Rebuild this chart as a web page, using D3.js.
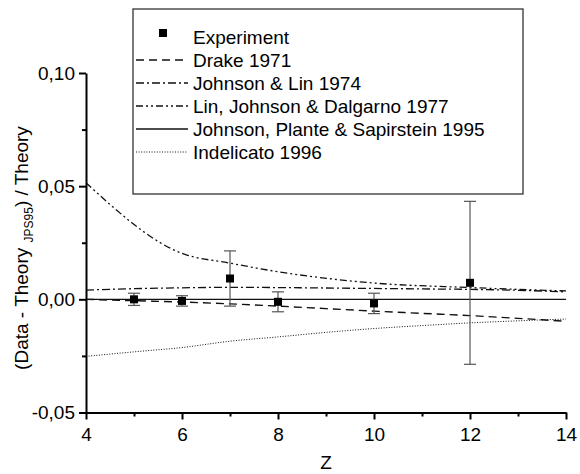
<!DOCTYPE html>
<html><head><meta charset="utf-8">
<script src="https://cdn.jsdelivr.net/npm/d3@7"></script>
<style>body{margin:0;background:#fff}svg{display:block}text{font-family:"Liberation Sans",Arial,sans-serif}</style>
</head><body><svg id="c" width="580" height="474"></svg>
<script>
// Data
const expZ = [5, 6, 7, 8, 10, 12];
const expVal = [0.0000, -0.0007, 0.0092, -0.0011, -0.0018, 0.0073];
const expErr = [0.0027, 0.0023, 0.0122, 0.0044, 0.0045, 0.0360];

const drakeZ = [4, 5, 6, 7, 8, 9, 10, 11, 12, 13, 14];
const drakeVal = [0.0000, -0.0006, -0.0012, -0.0020, -0.0030, -0.0041, -0.0052, -0.0062, -0.0072, -0.0084, -0.0097];

const jlZ = [4, 5, 6, 7, 8, 9, 10, 11, 12, 13, 14];
const jlVal = [0.0041, 0.0047, 0.0051, 0.0053, 0.0052, 0.0050, 0.0048, 0.0046, 0.0044, 0.0040, 0.0033];

const ljdZ = [4, 6, 7, 8, 10, 12, 14];
const ljdVal = [0.0515, 0.0203, 0.0160, 0.0122, 0.0072, 0.0052, 0.0037];

const jpsZ = [4, 14];
const jpsVal = [0, 0];

const indZ = [4, 5, 6, 7, 8, 9, 10, 11, 12, 13, 14];
const indVal = [-0.0252, -0.0232, -0.0213, -0.0185, -0.0166, -0.0146, -0.0129, -0.0116, -0.0104, -0.0095, -0.0087];

const xTicks = [4, 6, 8, 10, 12, 14];
const xMinor = [5, 7, 9, 11, 13];
const yTicks = [-0.05, 0.00, 0.05, 0.10];
const yMinor = [-0.025, 0.025, 0.075];

const legendLabels = ["Experiment", "Drake 1971", "Johnson & Lin 1974", "Lin, Johnson & Dalgarno 1977", "Johnson, Plante & Sapirstein 1995", "Indelicato 1996"];

const svg = d3.select("#c");
const x = d3.scaleLinear().domain([4, 14]).range([86, 566]);
const y = d3.scaleLinear().domain([-0.05, 0.10]).range([412.5, 73]);
const fmt = v => d3.format(".2f")(v).replace(".", ",").replace("\u2212", "-");

const styles = [
  {z: drakeZ, v: drakeVal, dash: "8,5", w: 1.4},
  {z: jlZ, v: jlVal, dash: "8,3,2,3", w: 1.3},
  {z: ljdZ, v: ljdVal, dash: "7,3,2,3,2,3", w: 1.3},
  {z: jpsZ, v: jpsVal, dash: null, w: 1.4},
  {z: indZ, v: indVal, dash: "1,1.6", w: 1}
];
const line = d3.line().x(d => x(d[0])).y(d => y(d[1])).curve(d3.curveMonotoneX);
styles.forEach(s => {
  svg.append("path").datum(s.z.map((z, i) => [z, s.v[i]]))
    .attr("d", line).attr("fill", "none").attr("stroke", "#111")
    .attr("stroke-width", s.w).attr("stroke-dasharray", s.dash);
});

// Error bars
const eb = svg.append("g").attr("stroke", "#555").attr("stroke-width", 1.2);
expZ.forEach((z, i) => {
  const cx = x(z), y1 = y(expVal[i] + expErr[i]), y2 = y(expVal[i] - expErr[i]);
  eb.append("line").attr("x1", cx).attr("x2", cx).attr("y1", y1).attr("y2", y2);
  eb.append("line").attr("x1", cx - 6).attr("x2", cx + 6).attr("y1", y1).attr("y2", y1);
  eb.append("line").attr("x1", cx - 6).attr("x2", cx + 6).attr("y1", y2).attr("y2", y2);
});
svg.append("g").selectAll("rect").data(expZ).join("rect")
  .attr("x", (d) => x(d) - 4).attr("y", (d, i) => y(expVal[i]) - 4)
  .attr("width", 8).attr("height", 8).attr("fill", "#000");

// Axes
const xAxis = svg.append("g").attr("transform", "translate(0,412.5)")
  .call(d3.axisBottom(x).tickValues(xTicks).tickSize(7).tickSizeOuter(0).tickPadding(5).tickFormat(d3.format("d")));
svg.append("g").attr("transform", "translate(0,412.5)")
  .call(d3.axisBottom(x).tickValues(xMinor).tickSize(4).tickFormat(""))
  .call(g => g.select(".domain").remove());
const yAxis = svg.append("g").attr("transform", "translate(86,0)")
  .call(d3.axisLeft(y).tickValues(yTicks).tickSize(7).tickSizeOuter(0).tickPadding(4).tickFormat(fmt));
svg.append("g").attr("transform", "translate(86,0)")
  .call(d3.axisLeft(y).tickValues(yMinor).tickSize(4).tickFormat(""))
  .call(g => g.select(".domain").remove());
svg.selectAll(".domain").attr("stroke", "#000").attr("stroke-width", 2);
svg.selectAll(".tick line").attr("stroke", "#000").attr("stroke-width", 2);
svg.selectAll(".tick text").attr("font-size", 19).attr("fill", "#000")
  .style("font-family", '"Liberation Sans", Arial, sans-serif');
xAxis.selectAll(".tick text").attr("dy", "0.85em");

// Axis titles
svg.append("text").attr("x", 326).attr("y", 469).attr("text-anchor", "middle")
  .attr("font-size", 19).text("Z");
const yt = svg.append("text").attr("transform", "translate(28,248) rotate(-90)")
  .attr("text-anchor", "middle").attr("font-size", 19);
yt.append("tspan").text("(Data - Theory ");
yt.append("tspan").attr("font-size", 12).attr("dy", 5).text("JPS95");
yt.append("tspan").attr("dy", -5).text(") / Theory");

// Legend
const lg = svg.append("g");
lg.append("rect").attr("x", 133).attr("y", 9).attr("width", 390).attr("height", 185)
  .attr("fill", "#fff").attr("stroke", "#333").attr("stroke-width", 1.3);
const rowY = i => 37 + i * 23;
legendLabels.forEach((lab, i) => {
  lg.append("text").attr("x", 193).attr("y", rowY(i)).attr("dy", "0.35em")
    .attr("font-size", 19).text(lab);
  if (i === 0) {
    lg.append("rect").attr("x", 159).attr("y", rowY(i) - 8).attr("width", 8).attr("height", 8).attr("fill", "#000");
  } else {
    const s = styles[i - 1];
    lg.append("line").attr("x1", 136).attr("x2", 188).attr("y1", rowY(i)).attr("y2", rowY(i))
      .attr("stroke", "#111").attr("stroke-width", s.w).attr("stroke-dasharray", s.dash);
  }
});
</script></body></html>
